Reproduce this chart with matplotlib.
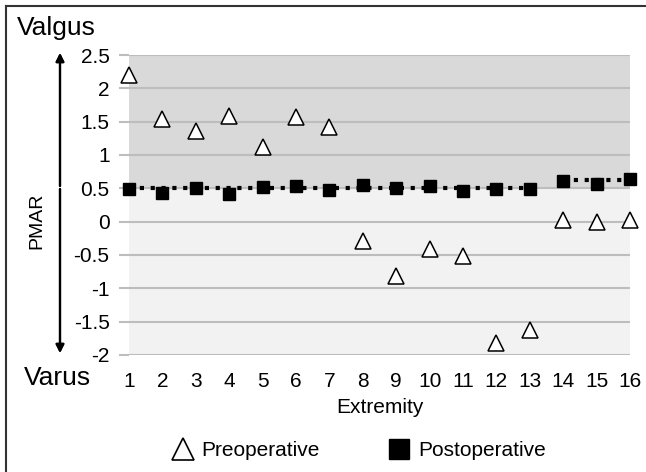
import numpy as np
import matplotlib.pyplot as plt
from matplotlib.lines import Line2D

plt.rcParams['font.family'] = ['Liberation Sans', 'DejaVu Sans']

# data
extremity = list(range(1, 17))
preop = [2.2, 1.54, 1.36, 1.58, 1.12, 1.57, 1.42, -0.29, -0.82, -0.41,
         -0.51, -1.82, -1.62, 0.02, 0.0, 0.02]
postop = [0.49, 0.43, 0.5, 0.42, 0.52, 0.53, 0.47, 0.55, 0.5, 0.53,
          0.46, 0.49, 0.49, 0.61, 0.57, 0.64]
groups = [(1, 13), (14, 16)]
levels = [0.5, 0.63]
yticks = [-2, -1.5, -1, -0.5, 0, 0.5, 1, 1.5, 2, 2.5]
ytick_labels = ['-2', '-1.5', '-1', '-0.5', '0', '0.5', '1', '1.5', '2', '2.5']

W, H = 646, 472
fig = plt.figure(figsize=(W / 100, H / 100), dpi=100)
ax = fig.add_axes([129 / W, 1 - 355 / H, 501 / W, 300 / H])

ax.axhspan(0.5, 2.5, color='#d9d9d9', zorder=0)
ax.axhspan(-2, 0.5, color='#f2f2f2', zorder=0)
for y in yticks:
    ax.axhline(y, color='#bdbdbd', lw=1.5, zorder=1)

for (a, b), lv in zip(groups, levels):
    ax.plot([a, b], [lv, lv], color='black', lw=3, ls=(0, (1, 1.6)), zorder=2, clip_on=False)

ax.plot(extremity, preop, ls='none', marker='^', ms=11, mfc='white', mec='black',
        mew=1.1, zorder=3, clip_on=False)
ax.plot(extremity, postop, ls='none', marker='s', ms=8, color='black', zorder=4,
        clip_on=False)

ax.set_xlim(1, 16)
ax.set_ylim(-2, 2.5)
ax.set_xticks(extremity)
ax.set_xticklabels([str(e) for e in extremity], fontsize=15)
ax.set_yticks(yticks)
ax.set_yticklabels(ytick_labels, fontsize=15)
ax.tick_params(axis='x', length=0, pad=12)
ax.tick_params(axis='y', length=7, color='#bdbdbd', width=1.5, pad=7)
for s in ax.spines.values():
    s.set_visible(False)
ax.set_xlabel('Extremity', fontsize=15, labelpad=5)

# side annotations
fig.text(17 / W, 1 - 28 / H, 'Valgus', fontsize=19, va='center', ha='left')
fig.text(24 / W, 1 - 378 / H, 'Varus', fontsize=19, va='center', ha='left')
fig.text(37 / W, 1 - 221 / H, 'PMAR', fontsize=14, rotation=90, va='center', ha='center')
ax_x = 60 / W
arrow = dict(arrowstyle='-|>', lw=1.6, color='black', mutation_scale=12,
             shrinkA=0, shrinkB=0)
fig.add_artist(plt.annotate('', xy=(ax_x, 1 - 53 / H), xytext=(ax_x, 1 - 186 / H),
                            xycoords='figure fraction', arrowprops=arrow))
fig.add_artist(plt.annotate('', xy=(ax_x, 1 - 353 / H), xytext=(ax_x, 1 - 189 / H),
                            xycoords='figure fraction', arrowprops=arrow))

# legend
h1 = Line2D([], [], ls='none', marker='^', ms=16, mfc='white', mec='black', mew=1.2)
h2 = Line2D([], [], ls='none', marker='s', ms=15, color='black')
fig.legend([h1, h2], ['Preoperative', 'Postoperative'], loc='center',
           bbox_to_anchor=(358 / W, 1 - 451 / H), ncol=2, frameon=False,
           fontsize=15, handletextpad=0.3, columnspacing=3.2, handlelength=1.2)

# frame
fig.add_artist(Line2D([6 / W, 1], [1 - 6 / H, 1 - 6 / H], color='#333333', lw=1.5))
fig.add_artist(Line2D([6 / W, 6 / W], [0, 1 - 6 / H], color='#333333', lw=1.5))

fig.savefig('out.png', dpi=100)
